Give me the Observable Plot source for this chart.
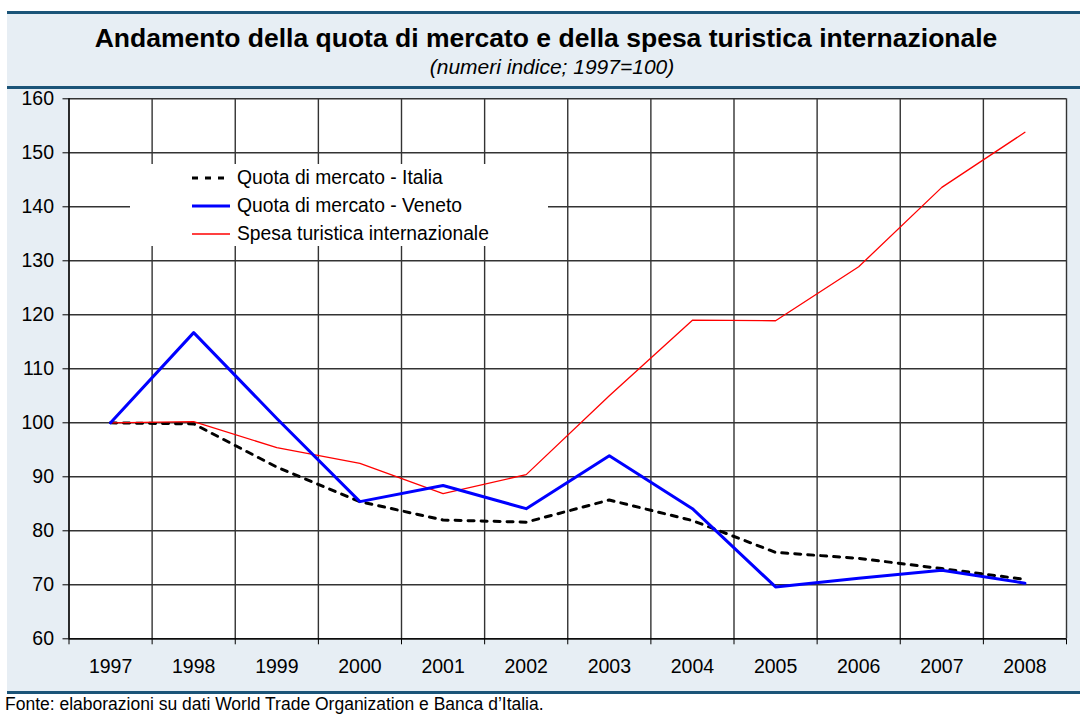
<!DOCTYPE html>
<html>
<head>
<meta charset="utf-8">
<script src="https://cdn.jsdelivr.net/npm/d3@7"></script>
<script src="https://cdn.jsdelivr.net/npm/@observablehq/plot@0.6"></script>
<style>
  body { margin: 0; background: #fff; }
  #wrap { position: relative; width: 1080px; height: 715px; overflow: hidden; background: #fff;
          font-family: "Liberation Sans", Arial, sans-serif; color: #000; }
  .abs { position: absolute; }
  .rule { position: absolute; left: 7px; width: 1073px; background: #1b5478; }
  #legend { position: absolute; left: 130px; top: 164px; width: 418px; height: 82px; background: #fff; }
  .item { position: absolute; left: 62px; height: 28px; display: flex; align-items: center; font-size: 19.3px; white-space: nowrap; }
  .item svg { margin-right: 5px; }
</style>
</head>
<body>
<div id="wrap">
  <div class="abs" style="left:7px;top:13px;width:1073px;height:679px;background:#e7eef4"></div>
  <div class="rule" style="top:11px;height:3px"></div>
  <div class="rule" style="top:86px;height:2.5px"></div>
  <div class="rule" style="top:691px;height:3px"></div>
  <div id="title" class="abs" style="left:0;width:1092px;top:23px;text-align:center;font-size:26.5px;font-weight:bold">Andamento della quota di mercato e della spesa turistica internazionale</div>
  <div id="subtitle" class="abs" style="left:0;width:1104px;top:55px;text-align:center;font-size:21px;font-style:italic">(numeri indice; 1997=100)</div>
  <div id="chart" class="abs" style="left:0;top:89px"></div>
  <div id="legend"></div>
  <div id="caption" class="abs" style="left:5px;top:696px;font-size:17.5px;line-height:1;white-space:nowrap">Fonte: elaborazioni su dati World Trade Organization e Banca d’Italia.</div>
</div>
<script>
const years  = [1997, 1998, 1999, 2000, 2001, 2002, 2003, 2004, 2005, 2006, 2007, 2008];
const italia = [100, 99.8, 91.8, 85.4, 82.0, 81.6, 85.7, 81.9, 76.0, 74.9, 73.0, 71.0];
const veneto = [100, 116.7, 100.8, 85.4, 88.4, 84.1, 93.9, 84.1, 69.6, 71.2, 72.7, 70.3];
const spesa  = [100, 100.2, 95.4, 92.5, 86.9, 90.4, 105.0, 119.0, 118.9, 128.9, 143.6, 153.8];
const seriesNames = ["Quota di mercato - Italia", "Quota di mercato - Veneto", "Spesa turistica internazionale"];
const yTicks = [60, 70, 80, 90, 100, 110, 120, 130, 140, 150, 160];

const styles = [
  {stroke: "#000000", strokeWidth: 3, strokeDasharray: "6,7"},
  {stroke: "#0000ff", strokeWidth: 3},
  {stroke: "#ff0000", strokeWidth: 1.3}
];

const rows = (vals) => years.map((y, i) => ({year: y, value: vals[i]}));
const bounds = years.map(y => y - 0.5).concat([years[years.length - 1] + 0.5]);
const xDomain = [bounds[0], bounds[bounds.length - 1]];

const chart = Plot.plot({
  width: 1080,
  height: 600,
  marginTop: 9.3,
  marginLeft: 68.5,
  marginRight: 14,
  marginBottom: 50.7,
  style: {background: "transparent", fontFamily: "'Liberation Sans', Arial, sans-serif", fontSize: "19.5px", color: "#000", overflow: "visible"},
  x: {type: "linear", domain: xDomain},
  y: {domain: [yTicks[0], yTicks[yTicks.length - 1]]},
  marks: [
    Plot.frame({fill: "#ffffff", stroke: null}),
    Plot.ruleY(yTicks, {stroke: "#333333", strokeWidth: 1.4}),
    Plot.ruleX(bounds, {stroke: "#333333", strokeWidth: 1.4}),
    Plot.line(rows(italia), {x: "year", y: "value", ...styles[0]}),
    Plot.line(rows(spesa), {x: "year", y: "value", ...styles[2]}),
    Plot.line(rows(veneto), {x: "year", y: "value", ...styles[1]}),
    Plot.ruleX([xDomain[0]], {stroke: "#000", strokeWidth: 1.2}),
    Plot.ruleY([yTicks[0]], {stroke: "#000", strokeWidth: 1.2}),
    Plot.axisY({ticks: yTicks, tickSize: 6, tickPadding: 9, label: null, tickFormat: d => String(d)}),
    Plot.axisX({ticks: years, tickSize: 0, tickPadding: 20, label: null, tickFormat: d => String(d)}),
    Plot.axisX({ticks: bounds, tickSize: 6, label: null, tickFormat: () => ""})
  ]
});
document.getElementById("chart").appendChild(chart);

// legend
const legend = document.getElementById("legend");
seriesNames.forEach((name, i) => {
  const s = styles[i];
  const div = document.createElement("div");
  div.className = "item";
  div.style.top = (i * 28) + "px";
  div.innerHTML = `<svg width="40" height="10"><line x1="0" x2="38" y1="5" y2="5" stroke="${s.stroke}" stroke-width="${s.strokeWidth}" ${s.strokeDasharray ? `stroke-dasharray="${s.strokeDasharray}"` : ""}/></svg><span>${name}</span>`;
  legend.appendChild(div);
});
</script>
</body>
</html>
